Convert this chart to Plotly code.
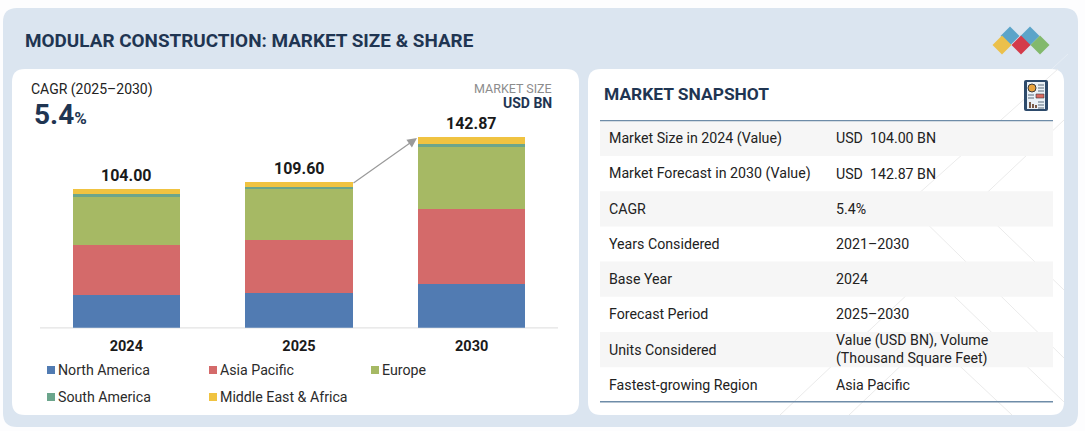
import plotly.graph_objects as go

W, H = 1085, 431
years = ["2024", "2025", "2030"]
totals = [104.00, 109.60, 142.87]
north_america = [24.75, 25.8, 32.5]
asia_pacific = [37.5, 40.0, 56.5]
europe = [36.0, 38.0, 46.37]
south_america = [2.5, 2.0, 2.5]
middle_east_africa = [3.25, 3.8, 5.0]
series_names = ["North America", "Asia Pacific", "Europe", "South America", "Middle East & Africa"]
series_values = [north_america, asia_pacific, europe, south_america, middle_east_africa]
series_colors = ["#517BB2", "#D46A6A", "#A6B964", "#6BA58C", "#F0C341"]
rows_label = ["Market Size in 2024 (Value)", "Market Forecast in 2030 (Value)", "CAGR", "Years Considered",
              "Base Year", "Forecast Period", "Units Considered", "Fastest-growing Region"]
rows_value = ["USD  104.00 BN", "USD  142.87 BN", "5.4%", "2021–2030", "2024", "2025–2030",
              "Value (USD BN), Volume<br>(Thousand Square Feet)", "Asia Pacific"]

FONT = "Roboto"
NAVY = "#1F3552"
INK = "#222222"


def px(x):
    return x / W


def py(y):
    return 1 - y / H


def rect(x0, y0, x1, y1, fill, line=None, width=0, layer="below"):
    return dict(type="rect", xref="paper", yref="paper", x0=px(x0), x1=px(x1), y0=py(y0), y1=py(y1),
                fillcolor=fill, line=dict(color=line or fill, width=width), layer=layer)


def path(points, fill=None, line=None, width=1, close=True, layer="below"):
    d = "M" + "L".join(f"{px(a):.5f},{py(b):.5f}" for a, b in points) + ("Z" if close else "")
    s = dict(type="path", xref="paper", yref="paper", path=d, layer=layer,
             line=dict(color=line or "rgba(0,0,0,0)", width=width if line else 0))
    if fill:
        s["fillcolor"] = fill
    return s


def rrect(x0, y0, x1, y1, r, fill, layer="below"):
    P = lambda a, b: f"{px(a):.5f},{py(b):.5f}"
    d = (f"M{P(x0+r,y0)}L{P(x1-r,y0)}Q{P(x1,y0)} {P(x1,y0+r)}L{P(x1,y1-r)}Q{P(x1,y1)} {P(x1-r,y1)}"
         f"L{P(x0+r,y1)}Q{P(x0,y1)} {P(x0,y1-r)}L{P(x0,y0+r)}Q{P(x0,y0)} {P(x0+r,y0)}Z")
    return dict(type="path", xref="paper", yref="paper", path=d, fillcolor=fill,
                line=dict(width=0), layer=layer)


def text(x, y, s, size=14, color=INK, bold=False, anchor="left"):
    shift = -2 if anchor == "left" else 2
    return dict(xref="paper", yref="paper", x=px(x + shift), y=py(y), text=f"<b>{s}</b>" if bold else s,
                showarrow=False, xanchor=anchor, yanchor="middle", align="left",
                font=dict(family=FONT, size=size, color=color))


shapes = [
    rrect(3, 8, 1078, 427, 14, "#DBE5F0"),
    path([(907, 204), (1068, 54)], line="#E6EDF5", close=False),
    rrect(12, 69, 579, 415, 13, "#FFFFFF"),
    rrect(588, 69, 1064, 415, 13, "#FFFFFF"),
]

# faint background line work
for pts in [[(907, 204), (1058, 69)], [(975, 204), (1064, 120)], [(907, 204), (1064, 358)],
            [(975, 204), (1064, 290)], [(780, 415), (930, 273), (1012, 352), (1064, 402)],
            [(849, 415), (930, 338), (1012, 415)]]:
    shapes.append(path(pts, line="#EBEBEB", width=1, close=False))

# table bands and rules
for i in range(0, 8, 2):
    top = 120.8 + i * 35.2
    shapes.append(rect(600, top, 1053, top + 35.2, "#F6F6F6"))
shapes.append(rect(600, 120, 1053, 121.2, "#6E8CA8"))
shapes.append(rect(600, 401, 1053, 402.4, "#6E8CA8"))

# axis line
shapes.append(rect(40, 327.2, 558, 328.4, "#E3E3E3"))

# logo
for cx, cy, c in [(1010, 36, "#5BA4C9"), (1030, 36, "#5BA4C9"), (1002, 45, "#EBC04B"),
                  (1021, 45, "#D43B4A"), (1040, 45, "#82B96C")]:
    shapes.append(path([(cx, cy - 9.5), (cx + 9.5, cy), (cx, cy + 9.5), (cx - 9.5, cy)], fill=c))

# snapshot icon
shapes += [
    rrect(1024, 80, 1048, 111, 2, "#2D4A6B"),
    rect(1027, 82, 1045, 109, "#EAF1F7"),
    dict(type="circle", xref="paper", yref="paper", x0=px(1028), x1=px(1036), y0=py(92), y1=py(84),
         fillcolor="#E8A33D", line=dict(color="#3A3A3A", width=1)),
    rect(1036, 94, 1044, 98, "#D9675F", "#3A3A3A", 0.6),
    rect(1029, 102, 1031, 108, "#7A5A48"),
    rect(1032, 104, 1034, 108, "#7A5A48"),
    rect(1035, 105, 1037, 108, "#7A5A48"),
]
for (a, b, y) in [(1038, 1044, 85), (1038, 1044, 88), (1038, 1044, 91), (1028, 1034, 95), (1028, 1034, 98),
                  (1038, 1044, 102), (1038, 1044, 105), (1038, 1044, 108)]:
    shapes.append(rect(a, y - 0.5, b, y + 0.5, "#5A6B7B"))

annotations = [
    text(25, 40, "MODULAR CONSTRUCTION: MARKET SIZE &amp; SHARE", 18.9, NAVY, True),
    text(31, 89, "CAGR (2025–2030)", 14, INK),
    text(34, 114, "<b>5.4</b><span style='font-size:17px'><b>%</b></span>", 28, NAVY),
    text(552, 88, "MARKET SIZE", 12.5, "#8C8C8C", anchor="right"),
    text(552, 103, "USD BN", 14, NAVY, True, anchor="right"),
    text(604, 94, "MARKET SNAPSHOT", 17.4, NAVY, True),
]

# custom legend
legend_x = [47, 209, 371, 47, 209]
legend_y = [370, 370, 370, 397, 397]
for n, c, lx, ly in zip(series_names, series_colors, legend_x, legend_y):
    shapes.append(rect(lx, ly - 4, lx + 8, ly + 4, c))
    annotations.append(text(lx + 11, ly, n, 14.2, "#2B2B2B"))

# table text
for i, (a, b) in enumerate(zip(rows_label, rows_value)):
    y = 120.8 + (i + 0.5) * 35.2
    annotations.append(text(609, y, a, 14.2, INK))
    annotations.append(text(836, y, b, 14.2, INK))

# totals
for i, t in enumerate(totals):
    annotations.append(dict(x=i, y=t, xref="x", yref="y", text=f"<b>{t:.2f}</b>", showarrow=False,
                            yanchor="bottom", yshift=2, font=dict(family=FONT, size=16, color="#1A1A1A")))

# growth arrow
annotations.append(dict(xref="paper", yref="paper", x=px(417), y=py(138), ax=-65, ay=46, axref="pixel", ayref="pixel",
                        text="", showarrow=True, arrowhead=2, arrowsize=1.6, arrowwidth=1.2, arrowcolor="#9A9A9A"))

fig = go.Figure()
for n, v, c in zip(series_names, series_values, series_colors):
    fig.add_bar(x=years, y=v, name=n, marker=dict(color=c, line=dict(width=0)), showlegend=False)

fig.update_layout(
    width=W, height=H, margin=dict(l=0, r=0, t=0, b=0), barmode="stack", bargap=0.38,
    paper_bgcolor="#FDFDFE", plot_bgcolor="rgba(0,0,0,0)", showlegend=False,
    font=dict(family=FONT), shapes=shapes, annotations=annotations,
    xaxis=dict(domain=[px(40), px(558)], type="category", range=[-0.5, 2.5], automargin=False, showgrid=False,
               zeroline=False, showline=False, ticks="",
               tickfont=dict(family=FONT, size=14.5, color="#1A1A1A", weight="bold"), ticklabelstandoff=8),
    yaxis=dict(domain=[py(327.7), py(127.9)], range=[0, 150], visible=False, showgrid=False, automargin=False),
)
fig.write_html("out.html", config=dict(displayModeBar=False),
               post_script="document.body.style.margin='0';document.body.style.overflow='hidden';")
